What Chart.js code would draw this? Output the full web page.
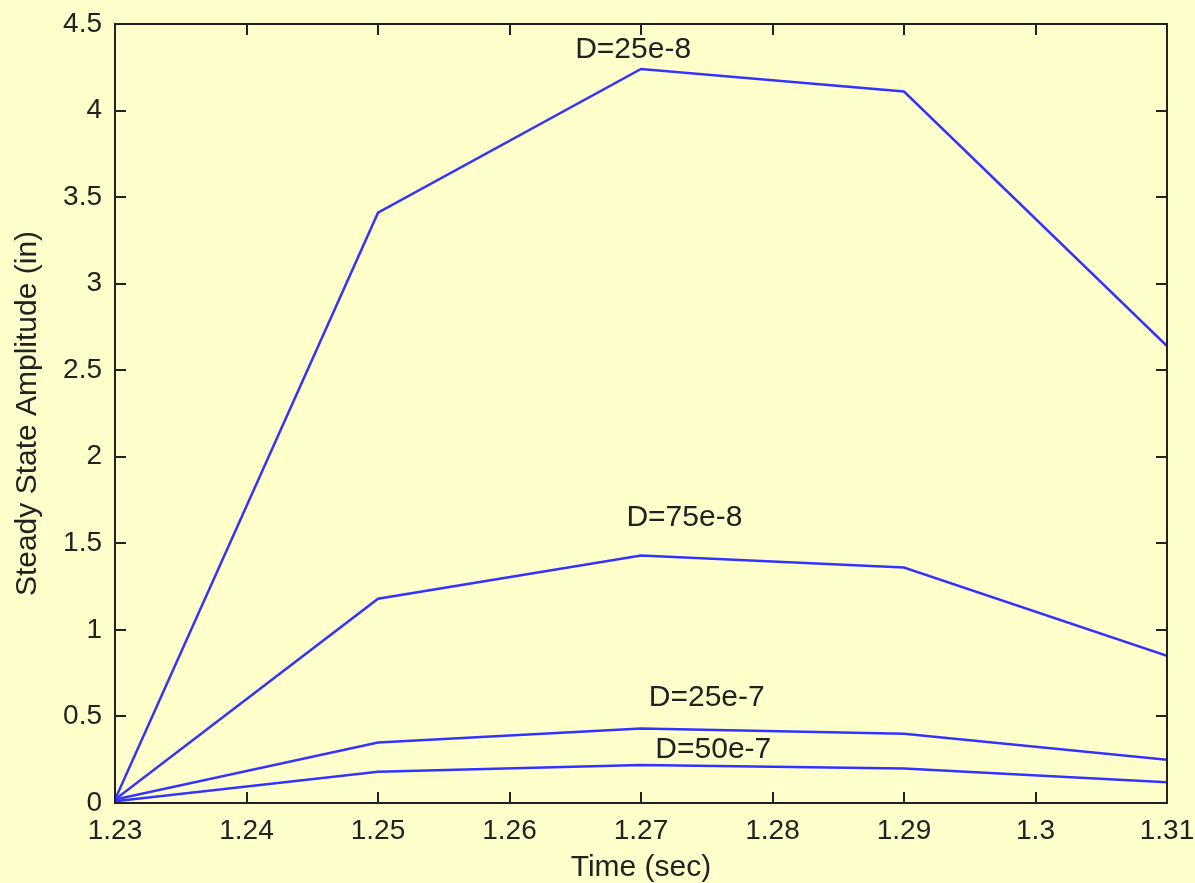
<!DOCTYPE html>
<html>
<head>
<meta charset="utf-8">
<script src="https://cdn.jsdelivr.net/npm/chart.js@4.4.1/dist/chart.umd.min.js"></script>
<style>
  html, body { margin: 0; padding: 0; background: #ffffcc; }
  canvas { display: block; }
</style>
</head>
<body>
<canvas id="ampChart" width="1195" height="883"></canvas>
<script>
// Time points (sec)
const times = [1.23, 1.25, 1.27, 1.29, 1.31];

// Steady state amplitude (in) for each damping value
const d25e8 = [0.02, 3.41, 4.24, 4.11, 2.64];
const d75e8 = [0.02, 1.18, 1.43, 1.36, 0.85];
const d25e7 = [0.02, 0.35, 0.43, 0.40, 0.25];
const d50e7 = [0.01, 0.18, 0.22, 0.20, 0.12];

// Curve labels, placed in data coordinates
const labelText = ['D=25e-8', 'D=75e-8', 'D=25e-7', 'D=50e-7'];
const labelX = [1.2694, 1.2733, 1.2750, 1.2755];
const labelY = [4.35, 1.65, 0.61, 0.31];

// Axis ticks
const xTicks = [1.23, 1.24, 1.25, 1.26, 1.27, 1.28, 1.29, 1.3, 1.31];
const yTicks = [0, 0.5, 1, 1.5, 2, 2.5, 3, 3.5, 4, 4.5];

const lineColor = '#3333ff';
const textColor = '#222222';
const fontFamily = '"Liberation Sans", Arial, sans-serif';

function series(values) {
    return {
        data: values.map((v, i) => ({ x: times[i], y: v })),
        borderColor: lineColor,
        borderWidth: 2.5,
        pointRadius: 0,
        tension: 0,
        fill: false
    };
}

// Draws the box and inward tick marks, MATLAB style
const boxTicks = {
    id: 'boxTicks',
    afterDatasetsDraw(chart) {
        const { ctx, chartArea: a, scales: { x, y } } = chart;
        const len = 11;
        ctx.save();
        ctx.strokeStyle = '#222';
        ctx.lineWidth = 2;
        ctx.strokeRect(a.left, a.top, a.right - a.left, a.bottom - a.top);
        ctx.beginPath();
        xTicks.forEach(t => {
            const px = Math.round(x.getPixelForValue(t));
            ctx.moveTo(px, a.bottom); ctx.lineTo(px, a.bottom - len);
            ctx.moveTo(px, a.top); ctx.lineTo(px, a.top + len);
        });
        yTicks.forEach(t => {
            const py = Math.round(y.getPixelForValue(t));
            ctx.moveTo(a.left, py); ctx.lineTo(a.left + len, py);
            ctx.moveTo(a.right, py); ctx.lineTo(a.right - len, py);
        });
        ctx.stroke();

        // curve labels
        ctx.fillStyle = textColor;
        ctx.font = '30px ' + fontFamily;
        ctx.textAlign = 'center';
        ctx.textBaseline = 'middle';
        labelText.forEach((txt, i) => {
            ctx.fillText(txt, x.getPixelForValue(labelX[i]), y.getPixelForValue(labelY[i]));
        });
        ctx.restore();
    }
};

new Chart(document.getElementById('ampChart'), {
    type: 'line',
    data: {
        datasets: [series(d25e8), series(d75e8), series(d25e7), series(d50e7)]
    },
    options: {
        responsive: false,
        animation: false,
        layout: { padding: { top: 24, right: 28, left: 0, bottom: 0 } },
        plugins: {
            legend: { display: false },
            tooltip: { enabled: false }
        },
        scales: {
            x: {
                type: 'linear',
                min: 1.23,
                max: 1.31,
                afterBuildTicks: s => { s.ticks = xTicks.map(v => ({ value: v })); },
                afterFit: s => { s.height = 80; s.paddingLeft = 0; s.paddingRight = 0; },
                grid: { display: false },
                border: { display: false },
                ticks: {
                    color: textColor,
                    font: { family: fontFamily, size: 28 },
                    padding: 3,
                    maxRotation: 0,
                    callback: v => String(v)
                },
                title: {
                    display: true,
                    text: 'Time (sec)',
                    color: textColor,
                    font: { family: fontFamily, size: 30 },
                    padding: { top: 0, bottom: -3 }
                }
            },
            y: {
                min: 0,
                max: 4.5,
                afterBuildTicks: s => { s.ticks = yTicks.map(v => ({ value: v })); },
                afterFit: s => { s.width = 115; s.paddingTop = 0; s.paddingBottom = 0; },
                grid: { display: false },
                border: { display: false },
                ticks: {
                    color: textColor,
                    font: { family: fontFamily, size: 28 },
                    padding: 5,
                    callback: v => String(v)
                },
                title: {
                    display: true,
                    text: 'Steady State Amplitude (in)',
                    color: textColor,
                    font: { family: fontFamily, size: 30 },
                    padding: { top: 10, bottom: 0 }
                }
            }
        }
    },
    plugins: [boxTicks]
});
</script>
</body>
</html>
